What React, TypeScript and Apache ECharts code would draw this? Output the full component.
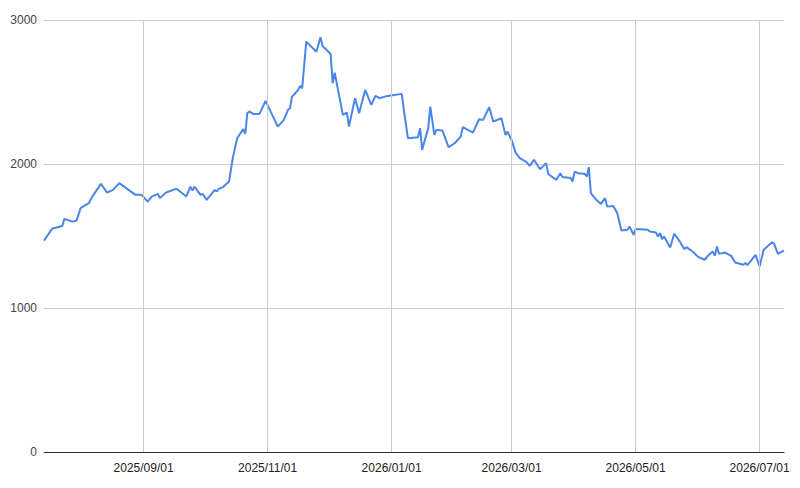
import React, { useEffect, useRef } from 'react';
import * as echarts from 'echarts';

// values
const dates = [
  '2025-07-14', '2025-07-18', '2025-07-23', '2025-07-24', '2025-07-28', '2025-07-30',
  '2025-08-01', '2025-08-05', '2025-08-07', '2025-08-11', '2025-08-14', '2025-08-17',
  '2025-08-20', '2025-08-28', '2025-08-31', '2025-09-03', '2025-09-05', '2025-09-08',
  '2025-09-09', '2025-09-12', '2025-09-17', '2025-09-18', '2025-09-22', '2025-09-24',
  '2025-09-25', '2025-09-26', '2025-09-29', '2025-09-30', '2025-10-02', '2025-10-06',
  '2025-10-07', '2025-10-08', '2025-10-10', '2025-10-13', '2025-10-15', '2025-10-17',
  '2025-10-20', '2025-10-21', '2025-10-22', '2025-10-23', '2025-10-25', '2025-10-28',
  '2025-10-31', '2025-11-06', '2025-11-09', '2025-11-11', '2025-11-12', '2025-11-13',
  '2025-11-16', '2025-11-17', '2025-11-18', '2025-11-20', '2025-11-25', '2025-11-27',
  '2025-11-28', '2025-12-02', '2025-12-03', '2025-12-04', '2025-12-08', '2025-12-10',
  '2025-12-11', '2025-12-14', '2025-12-16', '2025-12-19', '2025-12-22', '2025-12-24',
  '2025-12-26', '2025-12-30', '2026-01-06', '2026-01-07', '2026-01-09', '2026-01-14',
  '2026-01-15', '2026-01-16', '2026-01-19', '2026-01-20', '2026-01-22', '2026-01-23',
  '2026-01-26', '2026-01-29', '2026-02-01', '2026-02-04', '2026-02-05', '2026-02-10',
  '2026-02-13', '2026-02-15', '2026-02-18', '2026-02-20', '2026-02-24', '2026-02-26',
  '2026-02-27', '2026-03-01', '2026-03-03', '2026-03-05', '2026-03-08', '2026-03-10',
  '2026-03-12', '2026-03-15', '2026-03-18', '2026-03-19', '2026-03-23', '2026-03-25',
  '2026-03-26', '2026-03-30', '2026-03-31', '2026-04-01', '2026-04-03', '2026-04-06',
  '2026-04-07', '2026-04-08', '2026-04-09', '2026-04-12', '2026-04-14', '2026-04-16',
  '2026-04-17', '2026-04-20', '2026-04-22', '2026-04-24', '2026-04-27', '2026-04-28',
  '2026-04-30', '2026-05-01', '2026-05-07', '2026-05-08', '2026-05-11', '2026-05-12',
  '2026-05-13', '2026-05-14', '2026-05-15', '2026-05-18', '2026-05-20', '2026-05-22',
  '2026-05-25', '2026-05-26', '2026-05-29', '2026-06-01', '2026-06-04', '2026-06-06',
  '2026-06-08', '2026-06-09', '2026-06-10', '2026-06-11', '2026-06-14', '2026-06-17',
  '2026-06-19', '2026-06-23', '2026-06-24', '2026-06-25', '2026-06-29', '2026-07-01',
  '2026-07-03', '2026-07-07', '2026-07-08', '2026-07-10', '2026-07-13',
];

const values = [
  1468, 1550, 1570, 1619, 1600, 1607,
  1693, 1728, 1779, 1862, 1802, 1820,
  1867, 1786, 1786, 1739, 1774, 1793,
  1763, 1802, 1827, 1820, 1774, 1843,
  1815, 1843, 1786, 1793, 1751, 1820,
  1809, 1827, 1839, 1878, 2051, 2179,
  2242, 2209, 2353, 2364, 2348, 2348,
  2438, 2260, 2306, 2376, 2387, 2468,
  2514, 2542, 2526, 2850, 2780, 2880,
  2820, 2764, 2561, 2634, 2341, 2357,
  2260, 2457, 2353, 2514, 2410, 2473,
  2457, 2473, 2487, 2376, 2179, 2186,
  2249, 2098, 2249, 2398, 2202, 2237,
  2232, 2117, 2144, 2190, 2256, 2218,
  2311, 2306, 2394, 2294, 2318, 2202,
  2225, 2167, 2079, 2040, 2017, 1987,
  2029, 1964, 2006, 1931, 1890, 1936,
  1909, 1902, 1878, 1947, 1936, 1931,
  1913, 1978, 1797, 1746, 1723, 1763,
  1704, 1709, 1659, 1538, 1543, 1566,
  1508, 1548, 1543, 1531, 1524, 1496,
  1520, 1478, 1496, 1420, 1515, 1478,
  1409, 1423, 1392, 1353, 1335, 1369,
  1392, 1362, 1427, 1376, 1385, 1362,
  1316, 1300, 1312, 1298, 1369, 1288,
  1404, 1455, 1450, 1376, 1399,
];

const xTicks = ['2025-09-01', '2025-11-01', '2026-01-01', '2026-03-01', '2026-05-01', '2026-07-01'];

const toTime = (s: string) => {
  const [y, m, d] = s.split('-').map(Number);
  return new Date(y, m - 1, d).getTime();
};

const pad = (n: number) => (n < 10 ? '0' + n : '' + n);

const App: React.FC = () => {
  const chartRef = useRef<HTMLDivElement>(null);

  useEffect(() => {
    if (!chartRef.current) return;
    const chart = echarts.init(chartRef.current, undefined, { renderer: 'svg' });

    const tickTimes = xTicks.map(toTime);

    const option = {
      animation: false,
      textStyle: { fontFamily: 'Liberation Sans, Arial, sans-serif' },
      grid: { left: 44, right: 16, top: 20, bottom: 36 },
      xAxis: {
        type: 'value',
        z: 5,
        min: toTime(dates[0]),
        max: toTime(dates[dates.length - 1]),
        axisLine: { show: true, onZero: false, lineStyle: { color: '#333333', width: 1 } },
        axisTick: { show: false, customValues: tickTimes },
        axisLabel: {
          customValues: tickTimes,
          color: '#222222',
          fontSize: 12,
          margin: 10,
          formatter: (v: number) => {
            const d = new Date(v);
            return d.getFullYear() + '/' + pad(d.getMonth() + 1) + '/' + pad(d.getDate());
          },
        },
        splitLine: { show: true, lineStyle: { color: '#cccccc', width: 1 } },
      },
      yAxis: {
        type: 'value',
        min: 0,
        max: 3000,
        interval: 1000,
        axisLine: { show: false },
        axisTick: { show: false },
        axisLabel: { color: '#444444', fontSize: 12, margin: 7, formatter: (v: number) => String(v) },
        splitLine: { lineStyle: { color: '#cccccc', width: 1 } },
      },
      series: [
        {
          type: 'line',
          data: dates.map((d, i) => [toTime(d), values[i]]),
          showSymbol: false,
          symbol: 'none',
          lineStyle: { color: '#4a86e8', width: 2 },
          itemStyle: { color: '#4a86e8' },
        },
      ],
    };

    chart.setOption(option as any);

    return () => {
      chart.dispose();
    };
  }, []);

  return (
    <div
      ref={chartRef}
      style={{ position: 'absolute', left: 0, top: 0, width: '800px', height: '488px', background: '#ffffff' }}
    />
  );
};

export default App;
